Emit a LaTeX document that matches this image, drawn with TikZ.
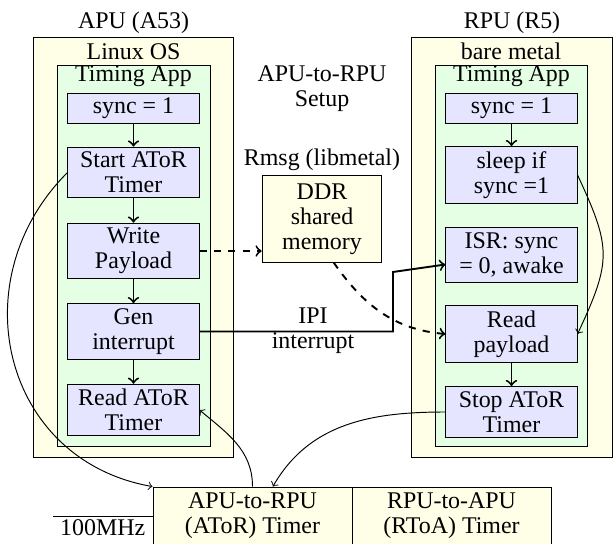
\documentclass[tikz,border=0pt]{standalone}
\usepackage{fontspec}
\setmainfont{Liberation Serif}
\usetikzlibrary{shapes.geometric,arrows,positioning}

\begin{document}
\begin{tikzpicture}[x=0.418pt,y=-0.418pt,font=\rmfamily\fontsize{10}{10.5}\selectfont,
  outerbox/.style={draw,fill=yellow!10},
  appbox/.style={draw,fill=green!10},
  stepbox/.style={draw,fill=blue!10,align=center,minimum width=54.8pt,inner sep=2pt},
  timerbox/.style={draw,fill=yellow!10,align=center,minimum width=83.2pt,minimum height=24.2pt,inner sep=1pt},
  flow/.style={->,thick},
  link/.style={->},
  shared/.style={->,thick,dashed}]
\useasboundingbox (0,0) rectangle (615,544);
\clip (0,0) rectangle (615,544);

\filldraw[outerbox] (33,37) rectangle (233,457);
\filldraw[appbox] (57,65) rectangle (210,446);
\filldraw[outerbox] (411,37) rectangle (612,457);
\filldraw[appbox] (435,65) rectangle (587,446);

\coordinate (ipi) at (393,272);
\coordinate (clk) at (53,516);

\node (apu) at (133.5,23) {APU (A53)};
\node (linux) at (133.5,51.5) {Linux OS};
\node (appa) at (133.5,76.5) {Timing App};
\node (rpu) at (512,23) {RPU (R5)};
\node (bare) at (511,51.5) {bare metal};
\node (appr) at (511.5,76.5) {Timing App};

\node (async) at (133.5,108.5) [stepbox] {sync = 1};
\node (astart) at (133.5,172.5) [stepbox] {Start AToR\\Timer};
\node (awrite) at (133.5,251) [stepbox] {Write\\Payload};
\node (agen) at (133.5,331.5) [stepbox] {Gen\\interrupt};
\node (aread) at (133.5,410) [stepbox] {Read AToR\\Timer};

\node (rsync) at (511.5,108.5) [stepbox] {sync = 1};
\node (rsleep) at (511.5,175) [stepbox] {sleep if\\sync =1};
\node (risr) at (511.5,255) [stepbox] {ISR: sync\\= 0, awake};
\node (rread) at (511.5,334) [stepbox] {Read\\payload};
\node (rstop) at (511.5,412) [stepbox] {Stop AToR\\Timer};

\node (setup) at (322,89) [align=center] {APU-to-RPU\\Setup};
\node (rmsg) at (322,160) {Rmsg (libmetal)};
\node (ddr) at (322,219) [draw,fill=yellow!10,align=center,minimum width=50pt,minimum height=36pt,inner sep=1pt] {DDR\\shared\\memory};
\node (ipilbl) at (313,331) [align=center] {IPI\\interrupt};

\node (atimer) at (252.5,516) [timerbox] {APU-to-RPU\\(AToR) Timer};
\node (rtimer) [timerbox,right=-0.4pt of atimer] {RPU-to-APU\\(RToA) Timer};

\foreach \u/\v in {async/astart,astart/awrite,awrite/agen,agen/aread,rsync/rsleep,rread/rstop} {
\draw[flow] (\u) -- (\v);
}

\draw (clk) -- (atimer.west) node[midway,below,inner sep=1.5pt] (mhz) {100MHz};
\draw[shared] (awrite.east) -- (awrite.east -| ddr.west);
\draw[shared] (ddr.285) to[out=-55,in=175] (rread.west);
\draw[flow] (agen.east) -| (ipi) -- (risr);
\draw[link] (astart.west) to[out=225,in=170,looseness=1.2] (atimer.north west);
\draw[link] (atimer.north) to[out=90,in=-40] (aread.east);
\draw[link] (rstop.west) to[out=180,in=60] ([xshift=8.5pt]atimer.north);
\draw[link] (rsleep.east) to[out=-65,in=65,looseness=1.3] (rread.east);
\end{tikzpicture}
\end{document}
